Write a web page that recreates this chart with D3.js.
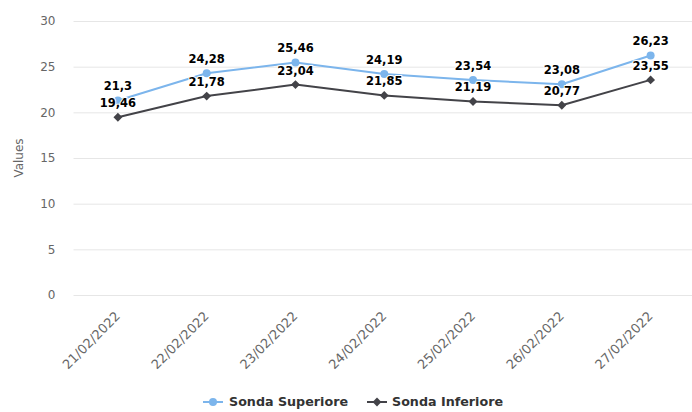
<!DOCTYPE html>
<html><head><meta charset="utf-8">
<script src="https://cdn.jsdelivr.net/npm/d3@7"></script>
<style>body{margin:0;background:#fff;font-family:"DejaVu Sans",sans-serif;}</style>
</head><body><svg id="c" width="692" height="412"></svg>
<script>
const categories = ["21/02/2022","22/02/2022","23/02/2022","24/02/2022","25/02/2022","26/02/2022","27/02/2022"];
const superiore = [21.3,24.28,25.46,24.19,23.54,23.08,26.23];
const inferiore = [19.46,21.78,23.04,21.85,21.19,20.77,23.55];
const yTicks = [0,5,10,15,20,25,30];
const seriesNames = ["Sonda Superiore","Sonda Inferiore"];
const colors = ["#7cb5ec","#434348"];

(function(){
const svg = d3.select("#c");
const pLeft = 73.5, pRight = 695, pTop = 21, pBottom = 295;
const x = d3.scaleBand().domain(categories).range([pLeft, pRight]);
const y = d3.scaleLinear().domain([0,30]).range([pBottom, pTop]);
const fmt = v => String(v).replace(".", ",");

svg.append("g").selectAll("line").data(yTicks).join("line")
  .attr("x1", pLeft).attr("x2", pRight)
  .attr("y1", d => y(d)+0.5).attr("y2", d => y(d)+0.5)
  .attr("stroke", "#e6e6e6").attr("stroke-width", 1);

const yAxis = d3.axisLeft(y).tickValues(yTicks).tickSize(0).tickPadding(0).tickFormat(d => d);
const yg = svg.append("g").attr("transform", `translate(${pLeft-18},0)`).call(yAxis);
yg.select(".domain").remove();
yg.selectAll("text").attr("fill", "#666").attr("font-size", "12px").attr("font-family", "DejaVu Sans").attr("dy", "0.32em");

svg.append("text").attr("transform", `translate(23,${(pTop+pBottom)/2}) rotate(-90)`)
  .attr("text-anchor", "middle").attr("fill", "#666").attr("font-size", "12px").text("Values");

const xAxis = d3.axisBottom(x).tickSize(0).tickPadding(0);
const xg = svg.append("g").attr("transform", `translate(0,${pBottom})`).call(xAxis);
xg.select(".domain").remove();
xg.selectAll("text").attr("fill", "#666").attr("font-size", "13px").attr("font-family", "DejaVu Sans")
  .attr("text-anchor", "end").attr("dy", null).attr("y", 0)
  .attr("transform", "translate(3,22) rotate(-45)");

const cx = d => x(d) + x.bandwidth()/2;
const data = [superiore, inferiore];
const line = d3.line().x((d,i) => cx(categories[i])).y(d => y(d));

data.forEach((s, k) => {
  svg.append("path").datum(s).attr("d", line).attr("fill", "none")
    .attr("stroke", colors[k]).attr("stroke-width", 2).attr("stroke-linejoin","round");
});
svg.append("g").selectAll("circle").data(superiore).join("circle")
  .attr("cx", (d,i) => cx(categories[i])).attr("cy", d => y(d)).attr("r", 4).attr("fill", colors[0]);
svg.append("g").selectAll("path").data(inferiore).join("path")
  .attr("d", d3.symbol().type(d3.symbolDiamond2).size(50))
  .attr("transform", (d,i) => `translate(${cx(categories[i])},${y(d)})`).attr("fill", colors[1]);

data.forEach((s, k) => {
  svg.append("g").selectAll("text").data(s).join("text")
    .attr("x", (d,i) => cx(categories[i])).attr("y", d => y(d) - 10)
    .attr("text-anchor", "middle").attr("font-size", "11.5px").attr("font-weight", "bold")
    .attr("fill", "#000").attr("stroke", "#fff").attr("stroke-width", 2).attr("paint-order", "stroke")
    .attr("stroke-linejoin","round")
    .text(d => fmt(d));
});

const leg = svg.append("g");
const items = [{x: 203, tx: 229}, {x: 367, tx: 392}];
items.forEach((it, k) => {
  const g = leg.append("g").attr("transform", `translate(${it.x},402)`);
  g.append("line").attr("x1", 0).attr("x2", 20).attr("y1", 0).attr("y2", 0).attr("stroke", colors[k]).attr("stroke-width", 2);
  if (k === 0) g.append("circle").attr("cx", 10).attr("cy", 0).attr("r", 4).attr("fill", colors[0]);
  else g.append("path").attr("d", d3.symbol().type(d3.symbolDiamond2).size(50)).attr("transform","translate(10,0)").attr("fill", colors[1]);
  g.append("text").attr("x", it.tx - it.x).attr("y", 0).attr("dy", "0.35em").attr("font-size", "12.7px").attr("font-weight", "bold")
    .attr("fill", "#333").text(seriesNames[k]);
});
})();
</script></body></html>
